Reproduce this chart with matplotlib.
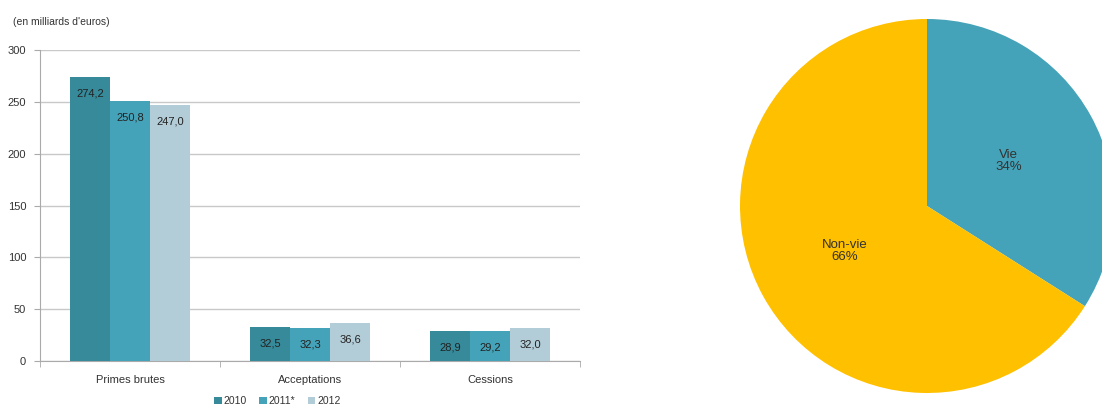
import numpy as np
import matplotlib.pyplot as plt

plt.rcParams['font.family'] = ['Liberation Sans', 'DejaVu Sans']

# -------- data --------
categories = ["Primes brutes", "Acceptations", "Cessions"]
years = ["2010", "2011*", "2012"]
v2010 = [274.2, 32.5, 28.9]
v2011 = [250.8, 32.3, 29.2]
v2012 = [247.0, 36.6, 32.0]
bar_colors = ["#368A9A", "#44A3B8", "#B3CDD8"]

pie_labels = ["Vie", "Non-vie"]
pie_shares = [34, 66]
pie_colors = ["#44A3B8", "#FFC000"]

fig = plt.figure(figsize=(11.02, 4.05), dpi=100)

# -------- bar chart --------
ax = fig.add_axes([40/1102, 44/405, 540/1102, 311/405])
x = np.arange(len(categories))
w = 0.222
series = [v2010, v2011, v2012]
for i, (vals, lab, col) in enumerate(zip(series, years, bar_colors)):
    bars = ax.bar(x + (i - 1)*w, vals, w, color=col, label=lab, zorder=3)
    for b, v in zip(bars, vals):
        ax.annotate(f"{v:.1f}".replace(".", ","), (b.get_x() + b.get_width()/2, v),
                    xytext=(0, -12), textcoords="offset points",
                    ha="center", va="center", fontsize=8, color="#222222", zorder=4)

ax.set_xlim(-0.5, 2.5)
ax.set_ylim(0, 300)
ax.set_yticks(range(0, 301, 50))
ax.yaxis.grid(True, color="#c8c8c8", lw=1, zorder=0)
ax.set_xticks(x)
ax.set_xticklabels(categories)
ax.set_xticks([-0.5, 0.5, 1.5, 2.5], minor=True)
ax.tick_params(axis="x", which="major", length=0, labelsize=8, pad=10, colors="#333333")
ax.tick_params(axis="x", which="minor", length=4, color="#aaaaaa")
ax.tick_params(axis="y", length=4, color="#aaaaaa", labelsize=8, colors="#333333", pad=6)
for s in ["top", "right"]:
    ax.spines[s].set_visible(False)
for s in ["left", "bottom"]:
    ax.spines[s].set_color("#aaaaaa")
ax.text(-0.05, 1.09, "(en milliards d'euros)", transform=ax.transAxes,
        fontsize=7.5, color="#333333", ha="left", va="center")
ax.legend(loc="upper center", bbox_to_anchor=(0.44, -0.09), ncol=3, frameon=False,
          fontsize=7.5, handlelength=0.7, handleheight=0.7, handletextpad=0.2,
          columnspacing=1.2, labelcolor="#333333", borderpad=0.2)

# -------- pie chart --------
pax = fig.add_axes([(927-187)/1102, (405-206-187)/405, 374/1102, 374/405])
pax.pie(pie_shares, colors=pie_colors, startangle=90, counterclock=False,
        labels=[f"{l}\n{s}%" for l, s in zip(pie_labels, pie_shares)],
        labeldistance=0.5, textprops=dict(fontsize=9.5, color="#333333", ha="center", va="center", linespacing=1.1))
pax.set_xlim(-1, 1)
pax.set_ylim(-1, 1)

fig.savefig("out.png", dpi=100)
